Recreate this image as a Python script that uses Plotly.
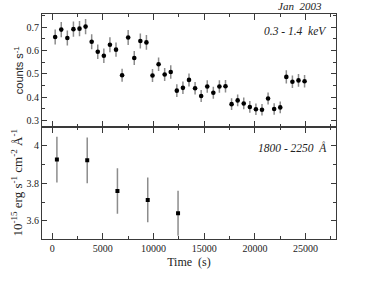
import plotly.graph_objects as go

# X-ray light curve (0.3 - 1.4 keV)
xray_time = [300, 900, 1500, 2100, 2700, 3300, 3900, 4500, 5100, 5700,
             6300, 6900, 7500, 8100, 8700, 9300, 9900, 10500, 11100, 11700,
             12300, 12900, 13500, 14100, 14700, 15300, 15900, 16500, 17100, 17700,
             18300, 18900, 19500, 20100, 20700, 21300, 21900, 22500, 23100, 23700,
             24300, 24900]
xray_rate = [0.658, 0.690, 0.654, 0.692, 0.694, 0.703, 0.638, 0.595, 0.578, 0.625,
             0.604, 0.494, 0.656, 0.568, 0.641, 0.635, 0.493, 0.541, 0.497, 0.508,
             0.428, 0.440, 0.474, 0.438, 0.405, 0.446, 0.419, 0.446, 0.447, 0.370,
             0.386, 0.373, 0.358, 0.348, 0.346, 0.394, 0.349, 0.356, 0.487, 0.466,
             0.472, 0.468]
xray_err = [0.032, 0.033, 0.032, 0.033, 0.033, 0.033, 0.032, 0.031, 0.031, 0.032,
            0.031, 0.028, 0.032, 0.030, 0.032, 0.032, 0.028, 0.029, 0.028, 0.029,
            0.027, 0.027, 0.028, 0.027, 0.026, 0.027, 0.026, 0.027, 0.027, 0.025,
            0.025, 0.025, 0.025, 0.025, 0.025, 0.026, 0.025, 0.025, 0.028, 0.027,
            0.027, 0.027]

# UV flux (1800 - 2250 A)
uv_time = [470, 3460, 6440, 9430, 12420]
uv_flux = [3.926, 3.922, 3.759, 3.711, 3.640]
uv_err = [0.122, 0.122, 0.121, 0.119, 0.120]

xticks = [0, 5000, 10000, 15000, 20000, 25000]
xticklabels = ["0", "5000", "10000", "15000", "20000", "25000"]
uv_ticks = [3.6, 3.8, 4.0]
uv_ticklabels = ["3.6", "3.8", "4"]
xray_ticks = [0.3, 0.4, 0.5, 0.6, 0.7]
xray_ticklabels = ["0.3", "0.4", "0.5", "0.6", "0.7"]

serif = "Liberation Serif, Times New Roman, serif"
axcol = "#3a3a3a"
errcol = "#8c8c8c"
txtcol = "#222222"

fig = go.Figure()
fig.add_trace(go.Scatter(
    x=xray_time, y=xray_rate, mode="markers", xaxis="x2", yaxis="y2",
    marker=dict(symbol="circle", size=4.6, color="black"),
    error_y=dict(type="data", array=xray_err, color=errcol, thickness=1.5, width=0),
    showlegend=False))
fig.add_trace(go.Scatter(
    x=uv_time, y=uv_flux, mode="markers", xaxis="x", yaxis="y",
    marker=dict(symbol="square", size=4, color="black"),
    error_y=dict(type="data", array=uv_err, color=errcol, thickness=1.5, width=0),
    showlegend=False))

common_x = dict(range=[-1000, 28000], tickvals=xticks, ticktext=xticklabels,
                ticks="inside", ticklen=6, automargin=False,
                tickwidth=1, tickcolor=axcol, showline=True, linecolor=axcol, linewidth=1,
                mirror="allticks", showgrid=False, zeroline=False,
                minor=dict(dtick=2500, tick0=0, ticks="inside", ticklen=3, tickcolor=axcol,
                           tickwidth=1, showgrid=False))
common_y = dict(ticks="inside", ticklen=5, tickwidth=1, tickcolor=axcol, showline=True,
                linecolor=axcol, linewidth=1, mirror="allticks", showgrid=False,
                zeroline=False, automargin=False,
                tickfont=dict(family=serif, size=10, color=txtcol))

fig.update_layout(
    width=365, height=282,
    margin=dict(l=42, r=29, t=14, b=43),
    paper_bgcolor="white", plot_bgcolor="white",
    font=dict(family=serif, size=10, color=txtcol),
    xaxis=dict(**common_x, anchor="y", domain=[0, 1],
               tickfont=dict(family=serif, size=10, color=txtcol),
               title=dict(text="Time  (s)", font=dict(family=serif, size=12, color=txtcol),
                          standoff=4)),
    xaxis2=dict(**common_x, anchor="y2", domain=[0, 1], matches="x", showticklabels=False),
    yaxis=dict(**common_y, domain=[0, 0.5], range=[3.503, 4.102],
               tickvals=uv_ticks, ticktext=uv_ticklabels,
               minor=dict(dtick=0.1, tick0=3.5, ticks="inside", ticklen=3, tickcolor=axcol,
                          showgrid=False),
               title=dict(text="10<sup>-15</sup> erg s<sup>-1</sup> cm<sup>-2</sup> Å<sup>-1</sup>",
                          font=dict(family=serif, size=13, color=txtcol), standoff=0)),
    yaxis2=dict(**common_y, domain=[0.5, 1], range=[0.274, 0.757],
                tickvals=xray_ticks, ticktext=xray_ticklabels,
                minor=dict(dtick=0.05, tick0=0.25, ticks="inside", ticklen=3, tickcolor=axcol,
                           showgrid=False),
                title=dict(text="counts s<sup>-1</sup>",
                           font=dict(family="Liberation Sans, Arial, sans-serif", size=11,
                                     color=txtcol), standoff=0)),
    annotations=[
        dict(text="<i>Jan  2003</i>", xref="paper", yref="paper", x=0.958, y=1.0,
             xanchor="right", yanchor="bottom", showarrow=False,
             font=dict(family=serif, size=11, color=txtcol)),
        dict(text="<i>0.3 - 1.4  keV</i>", xref="paper", yref="paper", x=0.977, y=0.925,
             xanchor="right", yanchor="middle", showarrow=False,
             font=dict(family=serif, size=11.5, color=txtcol)),
        dict(text="<i>1800 - 2250  Å</i>", xref="paper", yref="paper", x=0.977, y=0.405,
             xanchor="right", yanchor="middle", showarrow=False,
             font=dict(family=serif, size=11.5, color=txtcol)),
    ],
)

fig.write_html("out.html", config={"displayModeBar": False},
               post_script="document.body.style.margin='0';document.body.style.padding='0';")
